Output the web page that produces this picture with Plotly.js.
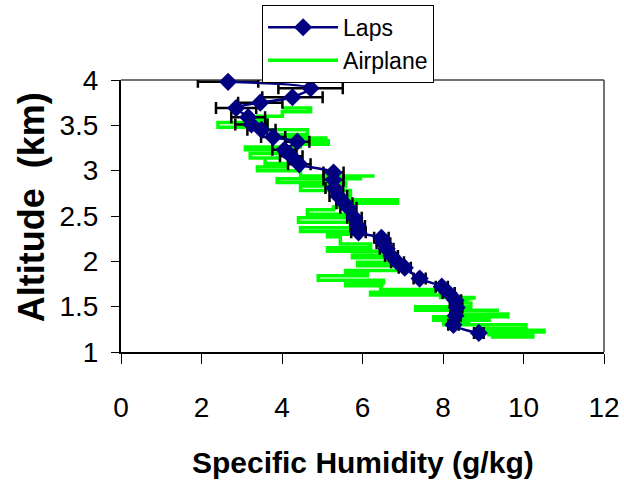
<!DOCTYPE html>
<html>
<head>
<meta charset="utf-8">
<script src="https://cdn.plot.ly/plotly-3.0.1.min.js"></script>
<style>html,body{margin:0;padding:0;background:#fff;}#chart{width:624px;height:480px;}</style>
</head>
<body>
<div id="chart"></div>
<script>
// Laps profile (specific humidity g/kg vs altitude km) with x error bars
var lapsAlt = [3.98, 3.91, 3.81, 3.75, 3.69, 3.59, 3.51, 3.45, 3.37, 3.32, 3.23, 3.16, 3.07, 2.98, 2.90, 2.81, 2.72, 2.64, 2.59, 2.48, 2.39, 2.32, 2.26, 2.20, 2.14, 2.06, 1.99, 1.93, 1.81, 1.72, 1.65, 1.57, 1.49, 1.40, 1.30, 1.21];
var lapsQ   = [2.66, 4.71, 4.26, 3.46, 2.86, 3.16, 3.24, 3.49, 3.78, 4.38, 4.06, 4.23, 4.43, 5.28, 5.28, 5.30, 5.40, 5.55, 5.65, 5.80, 5.88, 5.90, 6.47, 6.52, 6.60, 6.72, 6.87, 7.05, 7.42, 7.97, 8.14, 8.31, 8.34, 8.31, 8.26, 8.89];
var lapsErr = [0.75, 0.80, 0.75, 0.55, 0.50, 0.42, 0.40, 0.35, 0.30, 0.30, 0.30, 0.28, 0.28, 0.25, 0.25, 0.22, 0.22, 0.20, 0.20, 0.18, 0.18, 0.18, 0.18, 0.17, 0.17, 0.16, 0.16, 0.15, 0.15, 0.15, 0.15, 0.14, 0.14, 0.13, 0.13, 0.12];

// Airplane profile
var airAlt = [1.165,1.165, 1.19,1.19, 1.22,1.22, 1.24,1.24, 1.26,1.26, 1.30,1.30, 1.32,1.32, 1.35,1.35,1.35,
  1.39,1.39, 1.42,1.42, 1.46,1.46,1.46, 1.50,1.50, 1.54,1.54, 1.60,1.60, 1.63,1.63,1.63, 1.66,1.66, 1.69,1.69,
  1.73,1.73,1.73, 1.76,1.76, 1.79,1.79,1.79, 1.84,1.84, 1.87,1.87, 1.90,1.90, 1.95,1.95, 1.99,1.99, 2.04,2.04,
  2.07,2.07, 2.11,2.11, 2.15,2.15, 2.19,2.19, 2.27,2.27, 2.30,2.30, 2.33,2.33,2.33, 2.37,2.37, 2.43,2.43,
  2.48,2.48, 2.52,2.52, 2.57,2.57, 2.60,2.60, 2.64,2.64, 2.68,2.68, 2.72,2.72, 2.78,2.78, 2.83,2.83, 2.87,2.87,
  2.91,2.91, 2.94,2.94,2.94, 3.00,3.00,3.00, 3.04,3.04, 3.08,3.08, 3.14,3.14,3.14, 3.19,3.19, 3.23,3.23,
  3.26,3.26, 3.29,3.29, 3.33,3.33, 3.36,3.36,3.36, 3.40,3.40, 3.45,3.45, 3.48,3.48, 3.53,3.53, 3.57,3.57,
  3.60,3.60, 3.65,3.65, 3.69,3.69];
var airQ = [9.19,10.23, 10.23,9.14, 9.14,10.51, 10.51,9.01, 9.01,10.06, 10.06,8.02, 8.02,8.64, 8.64,9.19,7.77,
  7.77,9.61, 9.61,8.44, 8.44,9.39,7.32, 7.32,8.69, 8.69,8.19, 8.81,7.94, 7.94,7.87,6.20, 6.20,7.77, 7.77,6.45,
  6.45,6.52,5.58, 5.58,6.52, 6.52,6.12,4.90, 4.90,6.12, 6.12,5.58, 5.58,6.87, 6.87,5.88, 5.88,6.70, 6.70,5.75,
  5.75,6.52, 6.52,5.13, 5.13,6.20, 6.20,5.45, 5.45,5.13, 5.13,5.78, 5.78,4.66,4.46, 4.46,5.70, 5.70,4.41,
  4.41,5.70, 5.70,4.63, 4.63,5.28, 5.28,5.70, 5.70,6.87, 6.87,5.50, 5.50,5.70, 5.70,4.46, 4.46,5.58, 5.58,3.88,
  3.88,5.95, 5.95,6.30,4.46, 4.46,4.13,3.39, 3.39,4.13, 4.13,3.58, 3.58,3.96,3.21, 3.21,3.96, 3.96,3.09,
  3.09,4.46, 4.46,5.15, 5.15,4.63, 4.63,5.13,3.88, 3.88,4.63, 4.63,3.63, 3.63,2.41, 2.41,3.63, 3.63,3.39,
  3.39,4.01, 4.01,4.71, 4.71,4.01];

var xTickVals = [0, 2, 4, 6, 8, 10, 12];
var xTickText = ['0', '2', '4', '6', '8', '10', '12'];
var yTickVals = [1, 1.5, 2, 2.5, 3, 3.5, 4];
var yTickText = ['1', '1.5', '2', '2.5', '3', '3.5', '4'];

var FONT = 'Liberation Sans, Arial, Helvetica, sans-serif';

var traces = [
  {
    name: 'Airplane', x: airQ, y: airAlt, type: 'scatter', mode: 'lines',
    line: {color: '#00FF00', width: 3.5}
  },
  {
    name: 'Laps', x: lapsQ, y: lapsAlt, type: 'scatter', mode: 'lines+markers',
    line: {color: '#000080', width: 2.5, shape: 'spline', smoothing: 0.8},
    marker: {symbol: 'diamond', size: 14, color: '#000080'},
    error_x: {type: 'data', array: lapsErr, visible: true, color: 'black', thickness: 2.5, width: 6},
    cliponaxis: false
  }
];

var layout = {
  width: 624, height: 480,
  margin: {l: 121, r: 20, t: 80, b: 128, pad: 0, autoexpand: false},
  paper_bgcolor: 'white', plot_bgcolor: 'white',
  font: {family: FONT, color: 'black'},
  showlegend: true,
  legend: {
    xref: 'container', yref: 'container',
    x: 0.42, y: 0.99, xanchor: 'left', yanchor: 'top',
    bordercolor: 'black', borderwidth: 1, bgcolor: 'white',
    font: {family: FONT, size: 23, color: 'black'},
    traceorder: 'reversed', tracegroupgap: 0, itemwidth: 70
  },
  xaxis: {
    range: [0, 12], tickvals: xTickVals, ticktext: xTickText,
    ticks: 'outside', ticklen: 10, tickwidth: 1, tickcolor: 'black',
    showline: true, linecolor: 'black', linewidth: 2,
    showgrid: false, zeroline: false,
    tickfont: {family: FONT, size: 28, color: 'black'},
    ticklabelstandoff: 19
  },
  yaxis: {
    range: [1, 4], tickvals: yTickVals, ticktext: yTickText,
    ticks: 'outside', ticklen: 8, tickwidth: 1, tickcolor: 'black',
    showline: true, linecolor: 'black', linewidth: 2,
    showgrid: false, zeroline: false,
    tickfont: {family: FONT, size: 28, color: 'black'},
    ticklabelstandoff: 7
  },
  shapes: [
    {type: 'line', xref: 'paper', yref: 'paper', x0: 0, x1: 1, y0: 1, y1: 1, line: {color: '#444444', width: 1.5}, layer: 'below'},
    {type: 'line', xref: 'paper', yref: 'paper', x0: 1, x1: 1, y0: 0, y1: 1, line: {color: '#444444', width: 1.5}, layer: 'below'}
  ],
  annotations: [
    {text: '<b>Specific Humidity (g/kg)</b>', xref: 'paper', yref: 'paper', x: 0.5, y: -0.408,
     xanchor: 'center', yanchor: 'middle', showarrow: false, font: {family: FONT, size: 30, color: 'black'}},
    {text: '<b>Altitude  (km)</b>', xref: 'paper', yref: 'paper', x: -0.186, y: 0.533, textangle: -90,
     xanchor: 'center', yanchor: 'middle', showarrow: false, font: {family: FONT, size: 36, color: 'black'}}
  ]
};

Plotly.newPlot('chart', traces, layout, {displayModeBar: false, staticPlot: true});
</script>
</body>
</html>
